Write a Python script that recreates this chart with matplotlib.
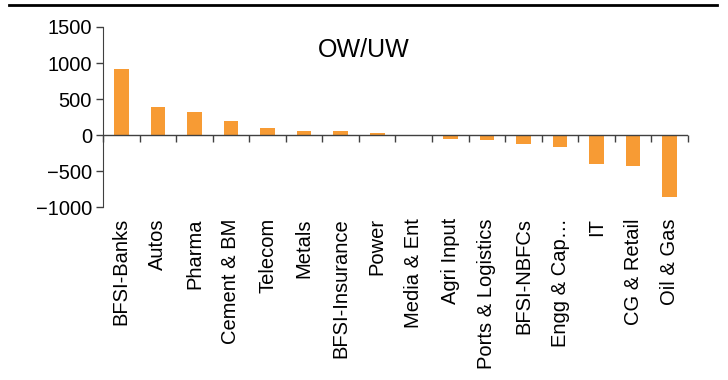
import matplotlib
matplotlib.use("Agg")
import matplotlib.pyplot as plt
from matplotlib.lines import Line2D
import numpy as np

plt.rcParams["font.family"] = ["Liberation Sans", "DejaVu Sans"]

sectores = ["BFSI-Banks", "Autos", "Pharma", "Cement & BM", "Telecom", "Metals",
            "BFSI-Insurance", "Power", "Media & Ent", "Agri Input",
            "Ports & Logistics", "BFSI-NBFCs", "Engg & Cap…", "IT",
            "CG & Retail", "Oil & Gas"]
ow_uw = [915, 390, 320, 200, 100, 60, 60, 25, 0, -50, -65, -125, -160, -395,
         -425, -865]
y_ticks = [-1000, -500, 0, 500, 1000, 1500]

NARANJA = "#F79B34"
GRIS = "#404040"

fig = plt.figure(figsize=(7.28, 3.8), dpi=100)
ax = fig.add_axes([0.1415, 0.455, 0.8035, 0.474])

x = np.arange(len(sectores))
ax.bar(x, ow_uw, width=0.4, color=NARANJA, zorder=2)

ax.set_xlim(-0.5, len(sectores) - 0.5)
ax.set_ylim(y_ticks[0], y_ticks[-1])
ax.set_yticks(y_ticks)
ax.set_xticks(x, sectores, rotation=90)
ax.tick_params(axis="x", length=0, pad=8, labelsize=14.5)
ax.tick_params(axis="y", length=5, width=1, color=GRIS, labelsize=14.5, pad=3)

for lado in ["top", "right", "bottom"]:
    ax.spines[lado].set_visible(False)
ax.spines["left"].set_color(GRIS)

# linea de cero con marcas entre categorias (estilo Excel)
ax.axhline(0, color=GRIS, lw=1, zorder=3)
y0, y1 = ax.get_ylim()
eje0 = ax.secondary_xaxis((0 - y0) / (y1 - y0))
eje0.set_xticks(np.arange(len(sectores) + 1) - 0.5)
eje0.tick_params(axis="x", direction="out", length=5, width=1, color=GRIS,
                 labelbottom=False, labeltop=False)
eje0.spines["bottom"].set_visible(False)
eje0.spines["top"].set_visible(False)

ax.text(0.445, 0.87, "OW/UW", transform=ax.transAxes, ha="center",
        va="center", fontsize=18)

# linea superior de la figura
fig.add_artist(Line2D([0.012, 0.985], [0.988, 0.988], color="black", lw=2))

fig.savefig("out.png", dpi=100)
